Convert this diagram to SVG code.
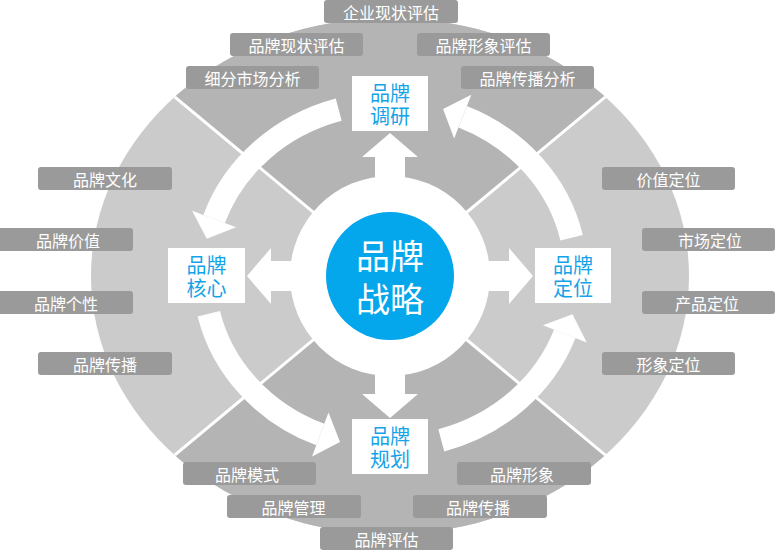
<svg xmlns="http://www.w3.org/2000/svg" width="776" height="551" viewBox="0 0 776 551">
<style>
.lbl rect{fill:#9a9a9a;}
.lbl text{fill:#ffffff;font-family:"Noto Sans CJK SC","Liberation Sans",sans-serif;font-size:16px;text-anchor:middle;dominant-baseline:central;}
.box rect{fill:#ffffff;}
.box text{fill:#14a3e8;font-family:"Noto Sans CJK SC","Liberation Sans",sans-serif;font-size:20px;text-anchor:middle;dominant-baseline:central;}
.arc{fill:none;stroke:#ffffff;stroke-width:23;}
.wh{fill:#ffffff;}
.sep{stroke:#ffffff;stroke-width:3;}
</style>
<defs>
<clipPath id="ell"><ellipse cx="390" cy="276" rx="299" ry="258"/></clipPath>
</defs>
<g id="background">
<ellipse cx="390" cy="276" rx="299" ry="258" fill="#cbcbcb"/>
<g clip-path="url(#ell)">
<polygon points="390,276 -38,-80 818,-80" fill="#b4b4b4"/>
<polygon points="390,276 -38,632 818,632" fill="#b4b4b4"/>
<line class="sep" x1="-38" y1="-80" x2="818" y2="632"/>
<line class="sep" x1="818" y1="-80" x2="-38" y2="632"/>
</g>
<circle cx="390" cy="276" r="100" fill="#ffffff"/>
</g>
<g id="connectors">
<polygon class="wh" points="390,133 418,157 405,157 405,185 375,185 375,157 362,157"/>
<polygon class="wh" points="390,418 418,394 405,394 405,367 375,367 375,394 362,394"/>
<polygon class="wh" points="247,276 271,248 271,261 300,261 300,291 271,291 271,304"/>
<polygon class="wh" points="533,276 509,248 509,261 480,261 480,291 509,291 509,304"/>
<path class="arc" d="M338.7,109.7 A186,172 0 0 0 214.1,219"/>
<polygon class="wh" points="236.1,227.2 192.1,210.8 206.8,238.7"/>
<path class="arc" d="M208.8,313.7 A186,172 0 0 0 320.3,434.5"/>
<polygon class="wh" points="312.1,456.5 328.5,412.5 340,441.9"/>
<path class="arc" d="M441.3,440.3 A186,172 0 0 0 564.8,333.8"/>
<polygon class="wh" points="586.7,342.4 542.9,325.2 572.5,314.3"/>
<path class="arc" d="M571.6,237.8 A186,172 0 0 0 462.7,116.7"/>
<polygon class="wh" points="471.3,94.8 454.1,138.6 443.1,109"/>
</g>
<g id="center">
<circle cx="390" cy="276" r="64" fill="#04a6ec"/>
<text fill="#ffffff" font-family="Noto Sans CJK SC, Liberation Sans, sans-serif" font-size="34" text-anchor="middle" dominant-baseline="central"><tspan x="390" y="254">品牌</tspan><tspan x="390" y="297">战略</tspan></text>
</g>
<g id="n-research" class="box"><rect x="352" y="76" width="76" height="55"/><text><tspan x="390" y="92">品牌</tspan><tspan x="390" y="115">调研</tspan></text></g>
<g id="n-core" class="box"><rect x="168" y="248" width="77" height="55"/><text><tspan x="206.5" y="264">品牌</tspan><tspan x="206.5" y="287">核心</tspan></text></g>
<g id="n-position" class="box"><rect x="535" y="248" width="76" height="55"/><text><tspan x="573" y="264">品牌</tspan><tspan x="573" y="287">定位</tspan></text></g>
<g id="n-plan" class="box"><rect x="352" y="419" width="76" height="55"/><text><tspan x="390" y="435">品牌</tspan><tspan x="390" y="458">规划</tspan></text></g>
<g id="l1" class="lbl"><rect x="324" y="0" width="134" height="23" rx="3"/><text x="391" y="12">企业现状评估</text></g>
<g id="l2" class="lbl"><rect x="230" y="33" width="133" height="23" rx="3"/><text x="296.5" y="45">品牌现状评估</text></g>
<g id="l3" class="lbl"><rect x="417" y="33" width="133" height="23" rx="3"/><text x="483.5" y="45">品牌形象评估</text></g>
<g id="l4" class="lbl"><rect x="186" y="66" width="133" height="23" rx="3"/><text x="252.5" y="78">细分市场分析</text></g>
<g id="l5" class="lbl"><rect x="461" y="66" width="133" height="23" rx="3"/><text x="527.5" y="78">品牌传播分析</text></g>
<g id="l6" class="lbl"><rect x="38" y="167" width="134" height="23" rx="3"/><text x="105" y="179">品牌文化</text></g>
<g id="l7" class="lbl"><rect x="-4" y="228" width="137" height="23" rx="3"/><text x="68" y="240">品牌价值</text></g>
<g id="l8" class="lbl"><rect x="-4" y="291" width="137" height="23" rx="3"/><text x="66" y="303">品牌个性</text></g>
<g id="l9" class="lbl"><rect x="38" y="352" width="134" height="23" rx="3"/><text x="105" y="364">品牌传播</text></g>
<g id="l10" class="lbl"><rect x="602" y="167" width="133" height="23" rx="3"/><text x="668.5" y="179">价值定位</text></g>
<g id="l11" class="lbl"><rect x="642" y="228" width="133" height="23" rx="3"/><text x="710" y="240">市场定位</text></g>
<g id="l12" class="lbl"><rect x="642" y="291" width="133" height="23" rx="3"/><text x="707" y="303">产品定位</text></g>
<g id="l13" class="lbl"><rect x="602" y="352" width="133" height="23" rx="3"/><text x="668.5" y="364">形象定位</text></g>
<g id="l14" class="lbl"><rect x="183" y="462" width="133" height="23" rx="3"/><text x="247" y="474">品牌模式</text></g>
<g id="l15" class="lbl"><rect x="227" y="495" width="134" height="23" rx="3"/><text x="293.5" y="507">品牌管理</text></g>
<g id="l16" class="lbl"><rect x="320" y="527" width="133" height="23" rx="3"/><text x="386.5" y="539">品牌评估</text></g>
<g id="l17" class="lbl"><rect x="457" y="462" width="134" height="23" rx="3"/><text x="522" y="474">品牌形象</text></g>
<g id="l18" class="lbl"><rect x="413" y="495" width="134" height="23" rx="3"/><text x="478" y="507">品牌传播</text></g>
</svg>
